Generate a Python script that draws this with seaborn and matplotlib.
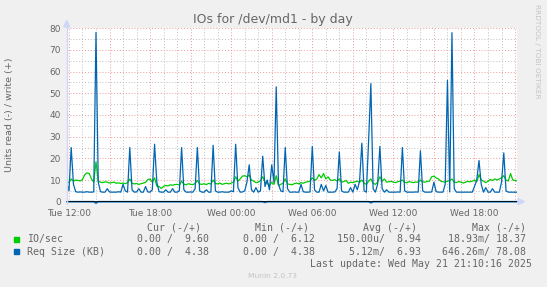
import numpy as np
import pandas as pd
import matplotlib
matplotlib.use("Agg")
import matplotlib.pyplot as plt
from matplotlib.lines import Line2D
from matplotlib.patches import Polygon, Rectangle
import seaborn as sns

# ---------------- data (10-minute samples, Tue 11:50 -> Wed 21:10) ----------------
start_hour = 11 + 50 / 60          # hours since Tue 00:00
step_hours = 10 / 60

io_write = [
    9.2, 8.8, 10.5, 9.5, 10.0, 9.8, 9.6, 10.2, 12.5, 13.3, 13.0, 10.5,
    9.0, 18.37, 9.5, 9.0, 8.8, 9.2, 9.0, 8.6, 8.8, 9.0, 8.5, 8.7,
    8.4, 8.6, 8.3, 8.8, 10.5, 8.5, 8.2, 8.4, 8.0, 8.3, 8.6, 8.9,
    10.2, 10.5, 9.0, 11.0, 7.2, 7.0, 6.12, 7.1, 7.5, 7.3, 7.8, 7.6,
    7.9, 8.0, 7.7, 9.5, 8.1, 7.8, 8.3, 8.0, 7.9, 8.4, 9.8, 8.2,
    8.0, 8.3, 7.9, 8.5, 8.1, 10.0, 8.4, 8.2, 8.6, 8.0, 8.3, 8.5,
    8.2, 8.6, 9.0, 11.5, 9.5, 10.5, 11.8, 12.0, 11.5, 12.3, 10.0, 9.5,
    8.8, 9.0, 9.8, 11.5, 9.0, 8.5, 7.5, 9.0, 8.0, 12.0, 7.5, 8.0,
    8.5, 10.5, 8.2, 8.0, 7.8, 8.3, 8.6, 8.2, 8.8, 8.5, 9.0, 9.2,
    9.5, 11.0, 9.8, 10.5, 12.5, 11.0, 13.0, 10.5, 11.5, 10.0, 9.8, 10.2,
    9.5, 10.5, 9.0, 9.3, 9.8, 8.5, 9.0, 8.8, 9.2, 9.5, 9.0, 10.0,
    8.5, 8.0, 9.5, 10.5, 8.5, 8.0, 9.0, 11.5, 9.5, 10.5, 9.0, 9.2,
    9.4, 9.0, 8.8, 9.2, 9.5, 10.0, 9.0, 8.7, 9.3, 9.0, 8.8, 9.1,
    9.0, 10.0, 9.2, 9.0, 9.4, 9.5, 11.5, 11.8, 11.0, 10.5, 9.5, 9.2,
    9.0, 9.5, 9.8, 10.5, 9.0, 8.8, 9.3, 9.0, 8.6, 9.0, 9.4, 9.2,
    9.5, 10.0, 9.2, 12.5, 10.0, 9.5, 8.8, 9.5, 10.2, 9.8, 10.5, 10.0,
    10.5, 11.0, 12.0, 10.0, 9.5, 13.0, 10.0, 9.8, 9.6,
]

req_write = [
    9.0, 5.0, 25.0, 8.0, 4.6, 4.4, 4.5, 4.4, 4.4, 4.6, 4.4, 4.4,
    4.5, 78.08, 9.0, 4.6, 4.4, 4.4, 6.0, 4.5, 4.4, 4.4, 4.4, 4.6,
    4.4, 8.0, 5.0, 4.4, 25.0, 5.5, 4.4, 4.5, 6.0, 4.4, 4.4, 7.0,
    4.5, 4.4, 5.5, 26.5, 9.0, 4.6, 4.4, 4.4, 5.5, 4.4, 4.4, 6.0,
    4.4, 4.4, 5.0, 25.0, 5.5, 4.4, 4.4, 4.5, 4.4, 6.0, 25.0, 5.0,
    4.4, 4.4, 5.5, 4.4, 4.4, 26.0, 5.0, 4.4, 4.4, 4.6, 4.4, 4.4,
    4.4, 5.0, 4.6, 26.5, 6.5, 4.4, 4.5, 5.0, 9.0, 17.0, 5.5, 4.4,
    6.5, 4.4, 5.0, 21.0, 7.0, 10.0, 5.5, 17.0, 9.0, 53.0, 8.0, 5.0,
    4.6, 25.0, 6.0, 4.4, 4.4, 4.5, 4.4, 4.4, 8.0, 4.6, 4.4, 4.4,
    4.5, 25.5, 5.5, 4.4, 4.4, 8.0, 5.0, 7.5, 4.4, 4.4, 4.4, 4.5,
    6.0, 23.0, 5.0, 4.4, 4.4, 4.4, 6.5, 4.4, 8.0, 5.5, 9.5, 27.0,
    5.0, 4.4, 28.0, 54.5, 6.0, 4.4, 8.0, 25.5, 6.0, 4.4, 5.5, 4.4,
    4.4, 4.4, 4.4, 4.5, 4.4, 25.0, 5.0, 4.4, 4.4, 4.4, 4.4, 4.5,
    4.4, 23.5, 5.0, 4.4, 4.4, 4.4, 4.5, 9.0, 4.6, 4.4, 4.4, 4.4,
    8.0, 56.0, 4.5, 78.0, 6.0, 4.4, 4.4, 4.4, 4.4, 4.4, 4.4, 4.4,
    4.4, 7.0, 10.0, 19.0, 8.0, 4.4, 6.5, 4.4, 4.4, 6.0, 4.4, 4.4,
    4.4, 9.0, 22.5, 5.0, 4.4, 4.4, 4.4, 4.38, 4.38,
]

# read side (plotted negative) - nearly zero, a few tiny blips
req_read_idx = [13, 88, 135]
req_read_val = [0.646, 0.35, 0.5]

tick_hours = [12, 18, 24, 30, 36, 42]
tick_labels = ["Tue 12:00", "Tue 18:00", "Wed 00:00", "Wed 06:00", "Wed 12:00", "Wed 18:00"]
end_hour = 45 + 10 / 60

legend_names = ["IO/sec", "Req Size (KB)"]
legend_colors = ["#00CC00", "#0066B3"]
legend_cur = ["0.00 /  9.60", "0.00 /  4.38"]
legend_min = ["0.00 /  6.12", "0.00 /  4.38"]
legend_avg = ["150.00u/  8.94", "5.12m/  6.93"]
legend_max = ["18.93m/ 18.37", "646.26m/ 78.08"]

# ---------------- build frame ----------------
n = len(io_write)
hours = start_hour + np.arange(n) * step_hours
req_read = np.zeros(n)
for i, v in zip(req_read_idx, req_read_val):
    req_read[i] = -v
df = pd.DataFrame({"hour": hours, "io": io_write, "req": req_write, "req_read": req_read})

# ---------------- style ----------------
sns.set_theme(style="white")
plt.rcParams["font.family"] = ["DejaVu Sans"]
TXT = "#666666"
W, H = 547, 287

def fx(px):
    return px / W

def fy(py):
    return 1 - py / H

fig = plt.figure(figsize=(W / 100, H / 100), dpi=100, facecolor="#F0F0F0")
x0, x1, y0, y1 = 66.7, 517.3, 28.3, 201.7
ax = fig.add_axes([fx(x0), fy(y1), fx(x1) - fx(x0), fy(y0) - fy(y1)])
ax.set_facecolor("white")

ax.set_xlim(start_hour, end_hour)
ax.set_ylim(0, 80)

GRID_MINOR = "#BEBEBE"
GRID_MAJOR = "#EE9A9A"
major_x = np.arange(12, end_hour, 3)
minor_x = np.arange(12, end_hour, 1)
for h in minor_x:
    if h not in major_x:
        ax.axvline(h, color=GRID_MINOR, lw=0.7, ls=(0, (1, 2)), zorder=0)
for h in major_x:
    ax.axvline(h, color=GRID_MAJOR, lw=0.7, ls=(0, (1, 2)), zorder=0)
for v in range(5, 80, 10):
    ax.axhline(v, color=GRID_MINOR, lw=0.7, ls=(0, (1, 2)), zorder=0)
for v in range(10, 81, 10):
    ax.axhline(v, color=GRID_MAJOR, lw=0.7, ls=(0, (1, 2)), zorder=0)

# series
sns.lineplot(data=df, x="hour", y="io", ax=ax, color=legend_colors[0], lw=0.9, zorder=3)
sns.lineplot(data=df, x="hour", y="req", ax=ax, color=legend_colors[1], lw=0.9, zorder=4)
sns.lineplot(data=df, x="hour", y="req_read", ax=ax, color=legend_colors[1], lw=1.2, zorder=4,
             clip_on=False)

ax.axhline(0, color="black", lw=1.2, zorder=5)

ax.set_xticks(tick_hours)
ax.set_xticklabels(tick_labels)
ax.set_yticks(range(0, 81, 10))
ax.set_yticklabels([str(v) for v in range(0, 81, 10)])
ax.tick_params(axis="both", labelsize=6.5, colors=TXT, length=2, width=0.6, pad=2)
ax.tick_params(axis="x", color=GRID_MAJOR, pad=3)
ax.tick_params(axis="y", color=GRID_MAJOR)
ax.set_xlabel("")
ax.set_ylabel("")
for s in ax.spines.values():
    s.set_visible(False)

# axes lines + arrows (Munin AXIS / ARROW colour)
AX = "#CFD6F8"
fig.add_artist(Line2D([fx(x0), fx(x0)], [fy(y1 + 2), fy(24)], color=AX, lw=1))
fig.add_artist(Line2D([fx(x1), fx(519)], [fy(y1), fy(y1)], color=AX, lw=1))
fig.add_artist(Polygon([[fx(x0 - 3), fy(27)], [fx(x0 + 3), fy(27)], [fx(x0), fy(20.5)]],
                       closed=True, color=AX, transform=fig.transFigure))
fig.add_artist(Polygon([[fx(518), fy(y1 - 3)], [fx(518), fy(y1 + 3)], [fx(524.5), fy(y1)]],
                       closed=True, color=AX, transform=fig.transFigure))

# texts
fig.text(fx(273), fy(19.5), "IOs for /dev/md1 - by day", ha="center", va="center",
         fontsize=9, color=TXT)
fig.text(fx(10), fy(115), "Units read (-) / write (+)", rotation=90, ha="center",
         va="center", fontsize=6.8, color=TXT)
fig.text(fx(537), fy(4), "RRDTOOL / TOBI OETIKER", rotation=270, ha="center", va="top",
         fontsize=5.3, color="#C4C4C4")

MONO = "DejaVu Sans Mono"
FS = 7.1
hy = 227.7
for lab, xr in zip(["Cur (-/+)", "Min (-/+)", "Avg (-/+)", "Max (-/+)"],
                   [200.6, 309.3, 416.7, 526.0]):
    fig.text(fx(xr), fy(hy), lab, ha="right", va="center", family=MONO, fontsize=FS, color=TXT)

row_y = [239.3, 251.7]
for k in range(2):
    y = row_y[k]
    fig.add_artist(Rectangle((fx(14), fy(y + 2.6)), fx(5.3), fy(0) - fy(5.3),
                             transform=fig.transFigure, color=legend_colors[k]))
    fig.text(fx(26.7), fy(y), legend_names[k], ha="left", va="center", family=MONO,
             fontsize=FS, color=TXT)
    for s, xr in zip([legend_cur[k], legend_min[k], legend_avg[k], legend_max[k]],
                     [209.3, 315.3, 420.7, 526.0]):
        fig.text(fx(xr), fy(y), s, ha="right", va="center", family=MONO, fontsize=FS, color=TXT)

fig.text(fx(532.3), fy(264), "Last update: Wed May 21 21:10:16 2025", ha="right", va="center",
         family=MONO, fontsize=FS, color=TXT)
fig.text(fx(272.8), fy(275.7), "Munin 2.0.73", ha="center", va="center", fontsize=5.4,
         color="#C4C4C4")

fig.savefig("out.png", dpi=100, facecolor=fig.get_facecolor())
